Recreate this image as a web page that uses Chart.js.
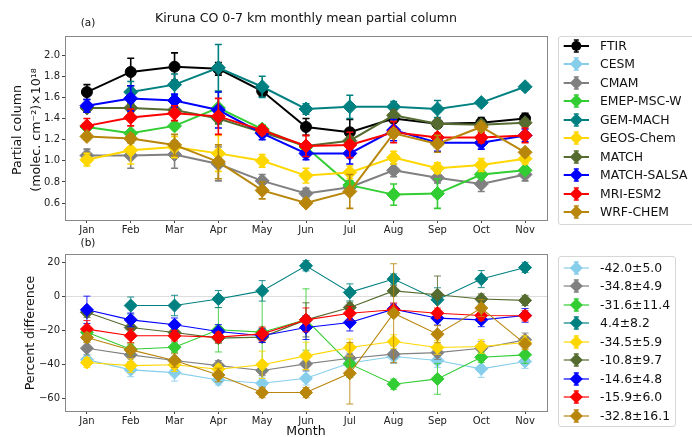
<!DOCTYPE html>
<html>
<head>
<meta charset="utf-8">
<script src="https://cdn.jsdelivr.net/npm/chart.js@4.4.1/dist/chart.umd.min.js"></script>
<style>
  body { margin: 0; background: #fff; font-family: "DejaVu Sans", sans-serif; }
  #wrap { position: relative; width: 692px; height: 437px; overflow: hidden; }
  #wrap canvas { position: absolute; left: 0; }
  .leg { position: absolute; left: 558px; background: #fff; border: 1px solid #d6d6d6; border-radius: 3px; box-sizing: border-box; }
  .row { position: absolute; left: 0; height: 18px; width: 200px; }
  .row svg { position: absolute; left: 0; top: 0; }
  .row span { position: absolute; left: 41px; top: 0; line-height: 18px; font-size: 12.4px; color: #111; white-space: nowrap; }
</style>
</head>
<body>
<div id="wrap">
  <canvas id="top" width="692" height="240" style="top:0"></canvas>
  <canvas id="bot" width="692" height="209" style="top:228px"></canvas>
  <div class="leg" id="legTop" style="top:36px;height:189px;width:160px"></div>
  <div class="leg" id="legBot" style="top:256px;height:171px;width:118px"></div>
</div>
<script>
// months on the x axis
var months = ['Jan', 'Feb', 'Mar', 'Apr', 'May', 'Jun', 'Jul', 'Aug', 'Sep', 'Oct', 'Nov'];
var names = ['FTIR', 'CESM', 'CMAM', 'EMEP-MSC-W', 'GEM-MACH', 'GEOS-Chem', 'MATCH', 'MATCH-SALSA', 'MRI-ESM2', 'WRF-CHEM'];
var colors = ['#000000', '#87CEEB', '#808080', '#32CD32', '#008080', '#FFD700', '#556B2F', '#0000FF', '#FF0000', '#B8860B'];
var topTicks = [0.6, 0.8, 1.0, 1.2, 1.4, 1.6, 1.8, 2.0];
var botTicks = [-60, -40, -20, 0, 20];

// (a) partial column, 1e18 molec/cm2
var ftirCol  = [1.65, 1.84, 1.89, 1.87, 1.66, 1.32, 1.27, 1.40, 1.35, 1.36, 1.40];
var cesmCol  = [null, null, null, null, null, null, null, null, null, null, null];
var cmamCol  = [1.05, 1.05, 1.06, 0.97, 0.81, 0.69, 0.75, 0.91, 0.84, 0.78, 0.87];
var emepCol  = [1.32, 1.26, 1.33, 1.50, 1.30, 1.13, 0.77, 0.68, 0.69, 0.87, 0.91];
var gemCol   = [null, 1.65, 1.72, 1.88, 1.70, 1.49, 1.51, 1.51, 1.49, 1.55, 1.70];
var geosCol  = [1.01, 1.10, 1.13, 1.07, 1.00, 0.86, 0.89, 1.03, 0.93, 0.96, 1.02];
var matchCol = [1.50, 1.50, 1.48, 1.40, 1.27, 1.14, 1.19, 1.43, 1.35, 1.34, 1.36];
var salsaCol = [1.52, 1.59, 1.57, 1.48, 1.26, 1.07, 1.07, 1.29, 1.17, 1.17, 1.24];
var mriCol   = [1.33, 1.41, 1.45, 1.42, 1.29, 1.14, 1.15, 1.27, 1.22, 1.22, 1.24];
var wrfCol   = [1.23, 1.21, 1.15, 0.99, 0.72, 0.60, 0.71, 1.26, 1.16, 1.32, 1.08];

var ftirColErr  = [0.07, 0.13, 0.13, 0.06, 0.05, 0.08, 0.12, 0.04, 0.04, 0.05, 0.05];
var cesmColErr  = [null, null, null, null, null, null, null, null, null, null, null];
var cmamColErr  = [0.06, 0.12, 0.13, 0.16, 0.06, 0.05, 0.06, 0.06, 0.05, 0.07, 0.06];
var emepColErr  = [0.03, 0.03, 0.03, 0.15, 0.04, 0.02, 0.04, 0.10, 0.14, 0.04, 0.03];
var gemColErr   = [null, 0.10, 0.10, 0.22, 0.10, 0.05, 0.11, 0.05, 0.08, 0.03, 0.03];
var geosColErr  = [0.06, 0.13, 0.10, 0.17, 0.06, 0.07, 0.06, 0.06, 0.05, 0.06, 0.05];
var matchColErr = [0.04, 0.04, 0.04, 0.05, 0.04, 0.03, 0.04, 0.05, 0.04, 0.04, 0.03];
var salsaColErr = [0.06, 0.12, 0.06, 0.17, 0.06, 0.06, 0.10, 0.10, 0.08, 0.06, 0.06];
var mriColErr   = [0.07, 0.08, 0.07, 0.17, 0.04, 0.10, 0.12, 0.10, 0.04, 0.05, 0.07];
var wrfColErr   = [0.03, 0.04, 0.10, 0.16, 0.08, 0.03, 0.16, 0.04, 0.08, 0.04, 0.03];

// (b) percent difference from FTIR
var cesmPct  = [-37.0, -43.0, -44.6, -48.9, -50.8, -47.9, -39.0, -35.2, -37.5, -42.4, -38.1];
var cmamPct  = [-30.3, -34.2, -37.5, -40.5, -43.4, -39.5, -36.2, -33.8, -32.9, -30.3, -25.4];
var emepPct  = [-21.0, -30.9, -29.7, -19.5, -20.9, -13.5, -39.5, -51.4, -48.3, -35.6, -34.2];
var gemPct   = [null, -5.3, -5.3, -1.5, 3.3, 18.0, 2.4, 10.2, -1.9, 10.2, 17.0];
var geosPct  = [-38.7, -40.5, -40.0, -42.6, -40.0, -34.8, -29.9, -26.4, -29.9, -29.3, -27.0];
var matchPct = [-9.2, -18.2, -21.1, -24.4, -23.8, -13.7, -6.4, 3.3, 1.0, -1.5, -2.3];
var salsaPct = [-7.8, -13.7, -16.6, -20.5, -23.0, -18.2, -15.2, -7.4, -12.7, -13.7, -11.1];
var mriPct   = [-19.1, -23.0, -23.0, -23.8, -21.9, -13.7, -9.8, -7.8, -9.8, -11.1, -11.3];
var wrfPct   = [-24.0, -31.3, -37.5, -46.0, -56.3, -56.3, -45.0, -9.8, -22.1, -6.8, -27.8];

var cesmPctErr  = [3, 4, 5, 3, 3, 4, 3, 4, 4, 5, 4];
var cmamPctErr  = [4, 4, 5, 3, 3, 4, 3, 5, 4, 4, 4];
var emepPctErr  = [3, 3, 3, 13, 22, 18, 8, 3, 9, 3, 5];
var gemPctErr   = [null, 5, 6, 5, 6, 3, 5, 3, 7, 5, 3];
var geosPctErr  = [3, 4, 4, 3, 8, 8, 5, 4, 4, 4, 4];
var matchPctErr = [3, 3, 3, 3, 3, 10, 3, 3, 11, 3, 3];
var salsaPctErr = [8, 4, 4, 4, 4, 7, 5, 3, 4, 4, 4];
var mriPctErr   = [5, 4, 3, 3, 4, 7, 4, 4, 3, 3, 3];
var wrfPctErr   = [3, 4, 4, 4, 3, 3, 18, 29, 5, 5, 3];

var pctLabels = ['-42.0\u00b15.0', '-34.8\u00b14.9', '-31.6\u00b111.4', '4.4\u00b18.2', '-34.5\u00b15.9',
                 '-10.8\u00b19.7', '-14.6\u00b14.8', '-15.9\u00b16.0', '-32.8\u00b116.1'];

var colData = [ftirCol, cesmCol, cmamCol, emepCol, gemCol, geosCol, matchCol, salsaCol, mriCol, wrfCol];
var colErr = [ftirColErr, cesmColErr, cmamColErr, emepColErr, gemColErr, geosColErr, matchColErr, salsaColErr, mriColErr, wrfColErr];
var pctData = [cesmPct, cmamPct, emepPct, gemPct, geosPct, matchPct, salsaPct, mriPct, wrfPct];
var pctErr = [cesmPctErr, cmamPctErr, emepPctErr, gemPctErr, geosPctErr, matchPctErr, salsaPctErr, mriPctErr, wrfPctErr];

var FONT = '"DejaVu Sans", sans-serif';

// vertical error bars with caps, drawn just before each dataset
var errorBars = {
    id: 'errorBars',
    beforeDatasetDraw: function(chart, args, opts) {
        var ds = chart.data.datasets[args.index];
        if (!ds.err) return;
        var ctx = chart.ctx, yS = chart.scales.y;
        ctx.save();
        ctx.strokeStyle = ds.borderColor;
        ctx.lineWidth = opts.width;
        ctx.globalAlpha = opts.alpha;
        args.meta.data.forEach(function(pt, i) {
            var v = ds.data[i], e = ds.err[i];
            if (v == null || e == null) return;
            var y1 = yS.getPixelForValue(v - e), y2 = yS.getPixelForValue(v + e);
            ctx.beginPath();
            ctx.moveTo(pt.x, y1); ctx.lineTo(pt.x, y2);
            ctx.moveTo(pt.x - opts.cap, y1); ctx.lineTo(pt.x + opts.cap, y1);
            ctx.moveTo(pt.x - opts.cap, y2); ctx.lineTo(pt.x + opts.cap, y2);
            ctx.stroke();
        });
        ctx.restore();
    }
};

// frame + free text
var frame = {
    id: 'frame',
    afterDraw: function(chart, args, opts) {
        var ctx = chart.ctx, a = chart.chartArea;
        ctx.save();
        ctx.strokeStyle = '#888';
        ctx.lineWidth = 1;
        ctx.strokeRect(Math.round(a.left) + 0.5, Math.round(a.top) + 0.5, Math.round(a.right - a.left), Math.round(a.bottom - a.top));
        ctx.fillStyle = '#111';
        ctx.textAlign = 'center';
        ctx.textBaseline = 'middle';
        (opts.texts || []).forEach(function(t) {
            ctx.save();
            ctx.font = t.size + 'px ' + FONT;
            ctx.translate(t.x, t.y);
            if (t.rot) ctx.rotate(-Math.PI / 2);
            ctx.fillText(t.text, 0, 0);
            ctx.restore();
        });
        ctx.restore();
    }
};

function makeSets(data, err, offset, lw, radius) {
    return data.map(function(d, k) {
        var c = colors[k + offset];
        var circle = (k + offset) === 0;
        return {
            label: names[k + offset],
            data: d,
            err: err[k],
            borderColor: c,
            backgroundColor: c,
            borderWidth: lw,
            pointStyle: circle ? 'circle' : 'rectRot',
            pointRadius: circle ? 5.5 : radius,
            pointBorderWidth: 1,
            pointBorderColor: c,
            pointBackgroundColor: c,
            spanGaps: false,
            order: -k
        };
    });
}

function baseOptions(yMin, yMax, tickVals, fmt, xAxisH, pad, zeroLine) {
    return {
        responsive: false,
        animation: false,
        devicePixelRatio: 1,
        layout: { padding: pad },
        plugins: { legend: { display: false }, tooltip: { enabled: false } },
        scales: {
            x: {
                offset: true,
                grid: { drawOnChartArea: false, tickLength: 3, tickColor: '#444', offset: false },
                border: { display: false },
                ticks: { color: '#222', font: { family: FONT, size: 10 }, padding: 1, maxRotation: 0 },
                afterFit: function(s) { s.height = xAxisH; }
            },
            y: {
                min: yMin, max: yMax,
                grid: {
                    drawOnChartArea: zeroLine,
                    color: function(c) { return c.tick && c.tick.value === 0 ? '#dddddd' : 'rgba(0,0,0,0)'; },
                    tickLength: 3, tickColor: '#444'
                },
                border: { display: false },
                ticks: { color: '#222', font: { family: FONT, size: 10 }, padding: 2, callback: fmt },
                afterBuildTicks: function(s) { s.ticks = tickVals.map(function(v) { return { value: v }; }); },
                afterFit: function(s) { s.width = 65; }
            }
        }
    };
}

var topOpts = baseOptions(0.44, 2.18, topTicks, function(v) { return v.toFixed(1); }, 20,
                          { top: 36, right: 145, left: 0, bottom: 0 }, false);
topOpts.plugins.errorBars = { width: 1.6, cap: 3.5, alpha: 1 };
topOpts.plugins.frame = { texts: [
    { text: 'Kiruna CO 0-7 km monthly mean partial column', x: 306, y: 19, size: 12.6 },
    { text: '(a)', x: 88, y: 23, size: 10.5 },
    { text: 'Partial column', x: 18, y: 130, size: 12.6, rot: true },
    { text: '(molec. cm\u207b\u00b2)\u00d710\u00b9\u2078', x: 37, y: 130, size: 12.6, rot: true }
] };

new Chart(document.getElementById('top'), {
    type: 'line',
    data: { labels: months, datasets: makeSets(colData, colErr, 0, 2, 7) },
    options: topOpts,
    plugins: [errorBars, frame]
});

var botOpts = baseOptions(-67.1, 24.9, botTicks, function(v) { return v === 0 ? '0' : String(v).replace('-', '\u2212'); }, 26,
                          { top: 26, right: 145, left: 0, bottom: 0 }, true);
botOpts.plugins.errorBars = { width: 1, cap: 3.5, alpha: 0.85 };
botOpts.plugins.frame = { texts: [
    { text: '(b)', x: 88, y: 15, size: 10.5 },
    { text: 'Percent difference', x: 31, y: 105, size: 12.6, rot: true },
    { text: 'Month', x: 306, y: 204, size: 12.6 }
] };

new Chart(document.getElementById('bot'), {
    type: 'line',
    data: { labels: months, datasets: makeSets(pctData, pctErr, 1, 1.1, 6.5) },
    options: botOpts,
    plugins: [errorBars, frame]
});

// legends
function icon(color, circle, lw, bar) {
    var m = circle
        ? '<circle cx="17.3" cy="9" r="5" fill="' + color + '"/>'
        : '<polygon points="17.3,2.5 23.8,9 17.3,15.5 10.8,9" fill="' + color + '"/>';
    var b = bar ? '<path d="M17.3 3V15M14.8 3H19.8M14.8 15H19.8" stroke="' + color + '" stroke-width="1.5"/>' : '';
    return '<svg width="32" height="18"><line x1="4.7" y1="9" x2="30" y2="9" stroke="' + color +
           '" stroke-width="' + lw + '"/>' + b + m + '</svg>';
}
function buildLegend(el, labels, offset, first, lw) {
    var html = '';
    labels.forEach(function(t, i) {
        var k = i + offset;
        html += '<div class="row" style="top:' + (first + i * 18.5 - 9) + 'px">' +
                icon(colors[k], k === 0, lw, true) + '<span>' + t + '</span></div>';
    });
    document.getElementById(el).innerHTML = html;
}
buildLegend('legTop', names, 0, 8.5, 2);
buildLegend('legBot', pctLabels, 1, 10.5, 1.2);
</script>
</body>
</html>
